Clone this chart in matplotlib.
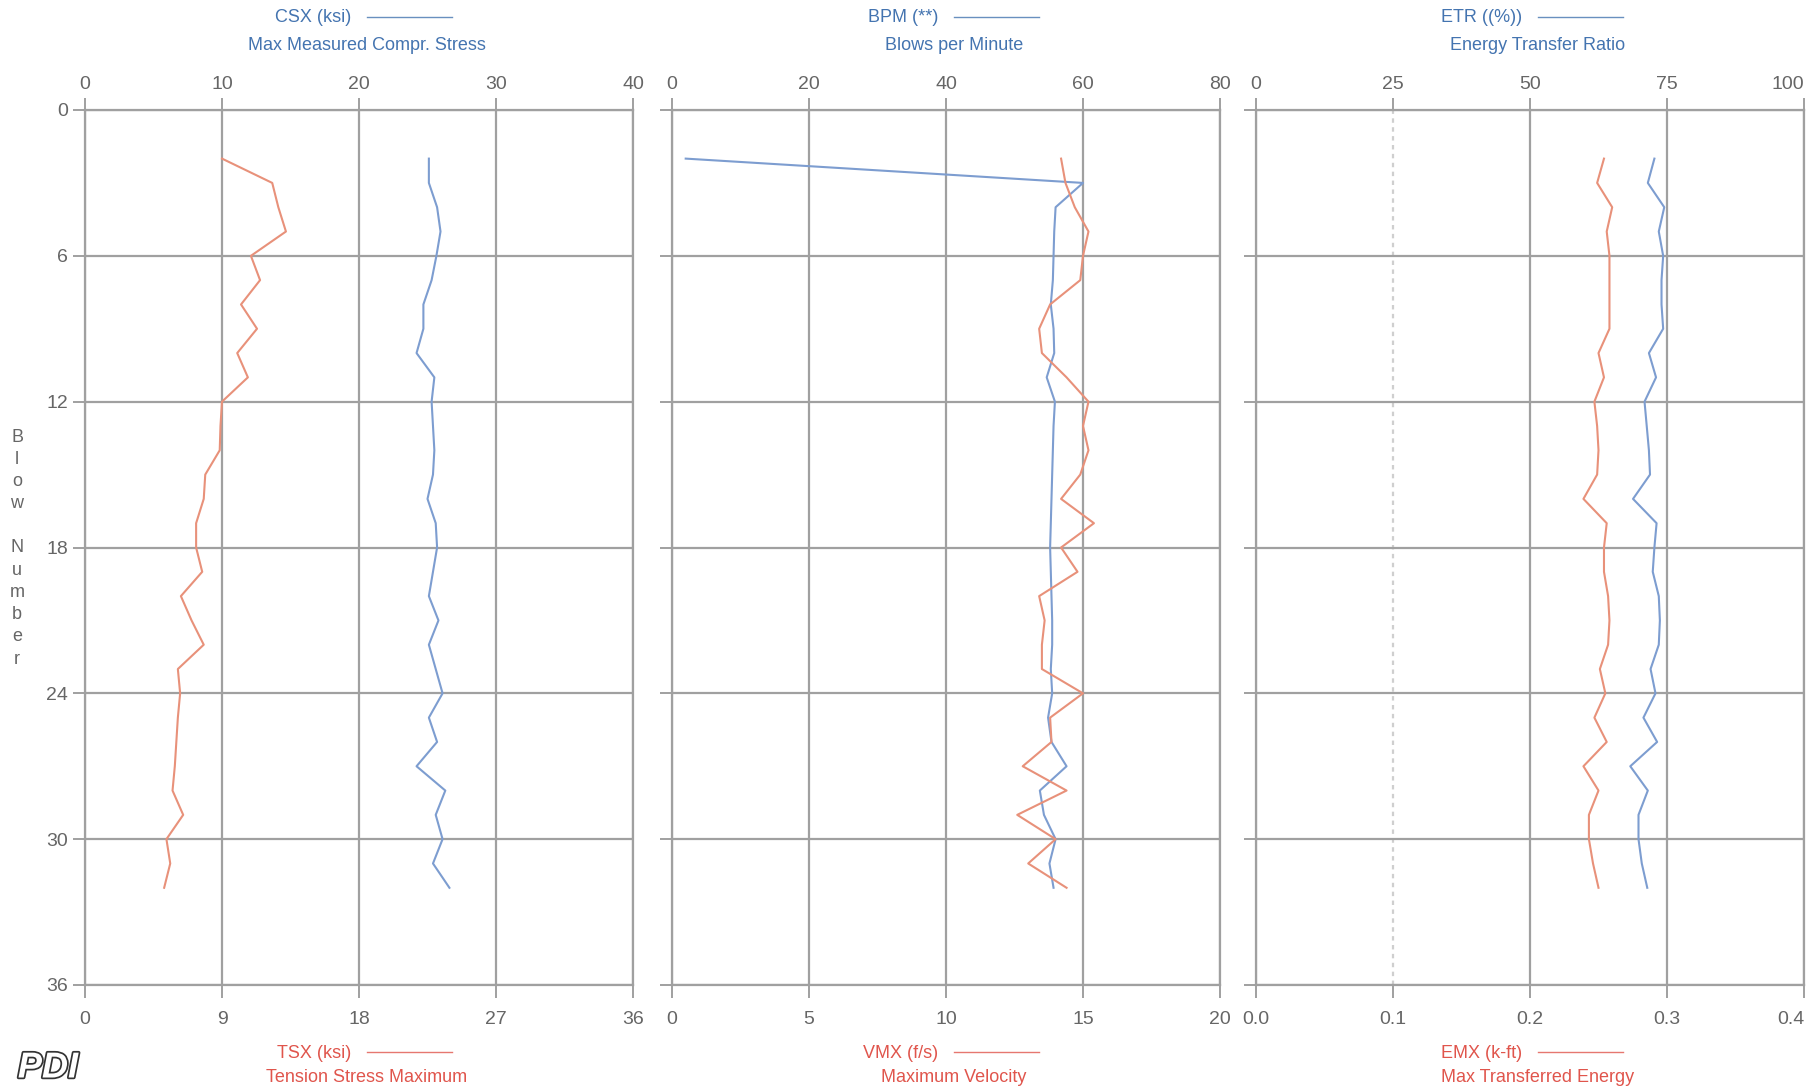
import matplotlib.pyplot as plt
from matplotlib.lines import Line2D
import matplotlib.patheffects as pe

plt.rcParams['font.family'] = ['Liberation Sans', 'DejaVu Sans']

# blow numbers (y axis)
blows = list(range(2, 33))

# panel 1: stresses
csx = [25.1, 25.1, 25.7, 25.95, 25.65, 25.3, 24.7, 24.7, 24.2, 25.5, 25.3, 25.4, 25.5, 25.4, 25.0, 25.6, 25.7,
       25.4, 25.1, 25.8, 25.1, 25.6, 26.1, 25.1, 25.7, 24.2, 26.3, 25.6, 26.1, 25.4, 26.6]
tsx = [9.0, 12.3, 12.7, 13.2, 10.9, 11.5, 10.25, 11.3, 10.0, 10.7, 9.0, 8.9, 8.85, 7.9, 7.8, 7.3, 7.3,
       7.7, 6.3, 7.0, 7.8, 6.1, 6.25, 6.1, 6.0, 5.9, 5.75, 6.45, 5.35, 5.6, 5.2]

# panel 2: blow rate and velocity
bpm = [2.0, 60.0, 56.0, 55.8, 55.7, 55.6, 55.3, 55.7, 55.8, 54.7, 55.9, 55.7, 55.6, 55.5, 55.4, 55.3, 55.2,
       55.3, 55.4, 55.5, 55.5, 55.3, 55.5, 54.9, 55.4, 57.6, 53.7, 54.3, 56.0, 55.1, 55.7]
vmx = [14.2, 14.36, 14.7, 15.2, 15.0, 14.9, 13.8, 13.4, 13.5, 14.4, 15.2, 15.0, 15.2, 14.9, 14.2, 15.4, 14.2,
       14.8, 13.4, 13.6, 13.5, 13.5, 15.0, 13.8, 13.85, 12.8, 14.4, 12.6, 14.0, 13.0, 14.4]

# panel 3: energy
etr = [72.7, 71.5, 74.5, 73.5, 74.3, 74.0, 74.0, 74.3, 71.7, 73.0, 70.9, 71.3, 71.7, 71.9, 68.8, 73.1, 72.7,
       72.4, 73.5, 73.7, 73.5, 72.0, 72.9, 70.7, 73.2, 68.3, 71.5, 69.8, 69.8, 70.4, 71.4]
emx = [0.254, 0.249, 0.260, 0.256, 0.258, 0.258, 0.258, 0.258, 0.250, 0.254, 0.247, 0.249, 0.250, 0.249, 0.239,
       0.256, 0.254, 0.254, 0.257, 0.258, 0.257, 0.251, 0.255, 0.247, 0.256, 0.239, 0.250, 0.243, 0.243, 0.246, 0.250]

top_ticks = [[0, 10, 20, 30, 40], [0, 20, 40, 60, 80], [0, 25, 50, 75, 100]]
bot_ticks = [[0, 9, 18, 27, 36], [0, 5, 10, 15, 20], [0.0, 0.1, 0.2, 0.3, 0.4]]
bot_labels = [['0', '9', '18', '27', '36'], ['0', '5', '10', '15', '20'], ['0.0', '0.1', '0.2', '0.3', '0.4']]
top_names = [('CSX (ksi)', 'Max Measured Compr. Stress'), ('BPM (**)', 'Blows per Minute'),
             ('ETR ((%))', 'Energy Transfer Ratio')]
bot_names = [('TSX (ksi)', 'Tension Stress Maximum'), ('VMX (f/s)', 'Maximum Velocity'),
             ('EMX (k-ft)', 'Max Transferred Energy')]
top_data = [csx, bpm, etr]
bot_data = [tsx, vmx, emx]
y_ticks = [0, 6, 12, 18, 24, 30, 36]

W, H = 1810, 1089
blue_line = '#7d9dd0'
red_line = '#e8917a'
blue_text = '#4474b0'
red_text = '#e0554c'
grid_c = '#a0a0a0'
tick_c = '#666666'

fig = plt.figure(figsize=(W / 100, H / 100), dpi=100)

lefts = [85, 672, 1256]
width = 548
top_px, bot_px = 110, 985

for i in range(3):
    ax = fig.add_axes([lefts[i] / W, (H - bot_px) / H, width / W, (bot_px - top_px) / H])
    ax2 = ax.twiny()

    ax.set_xlim(top_ticks[i][0], top_ticks[i][-1])
    ax.set_ylim(36, 0)
    ax.set_xticks(top_ticks[i])
    ax.set_yticks(y_ticks)
    ax.grid(True, color=grid_c, lw=1.6)
    ax.set_axisbelow(True)
    for s in ax.spines.values():
        s.set_color(grid_c)
        s.set_linewidth(1.6)
    ax.tick_params(axis='both', colors=grid_c, labelcolor=tick_c, labelsize=14, length=9, width=1.4, pad=3)
    ax.tick_params(axis='x', top=True, labeltop=True, bottom=False, labelbottom=False)
    if i > 0:
        ax.tick_params(axis='y', labelleft=False)
    ax.plot(top_data[i], blows, color=blue_line, lw=1.5, zorder=3)

    ax2.set_xlim(bot_ticks[i][0], bot_ticks[i][-1])
    ax2.set_xticks(bot_ticks[i])
    ax2.set_xticklabels(bot_labels[i])
    ax2.tick_params(axis='x', colors=grid_c, labelcolor=tick_c, labelsize=14, length=9, width=1.4, pad=10,
                    top=False, labeltop=False, bottom=True, labelbottom=True)
    for s in ax2.spines.values():
        s.set_visible(False)
    ax2.plot(bot_data[i], blows, color=red_line, lw=1.5, zorder=3)

    if i == 2:
        ax.get_xgridlines()[1].set_linestyle((0, (2, 2)))
        ax.get_xgridlines()[1].set_color('#cfcfcf')
        ax.get_xticklabels()[-1].set_ha('right')
        ax2.get_xticklabels()[-1].set_ha('right')

    # header / footer captions
    c = lefts[i] + width / 2
    for names, col, y1, y2 in [(top_names[i], blue_text, 18, 45), (bot_names[i], red_text, 1053, 1078)]:
        fig.text((c - 8) / W, (H - y1) / H, names[0], color=col, fontsize=13, ha='right', va='center')
        fig.add_artist(Line2D([(c + 8) / W, (c + 93) / W], [(H - y1 + 1) / H] * 2, color=col, lw=1.0, alpha=0.8))
        fig.text((c + 8) / W, (H - y2) / H, names[1], color=col, fontsize=13, ha='center', va='center')

# vertical y-axis title
fig.text(17 / W, (H - 548) / H, '\n'.join('Blow Number'), fontsize=13, color=tick_c,
         ha='center', va='center', linespacing=1.4)

# logo
fig.text(48 / W, (H - 1068) / H, 'PDI', fontsize=26, fontstyle='italic', fontweight='bold', color='white',
         ha='center', va='center', path_effects=[pe.withStroke(linewidth=2.5, foreground='#333333')])

fig.savefig('out.png', dpi=100)
